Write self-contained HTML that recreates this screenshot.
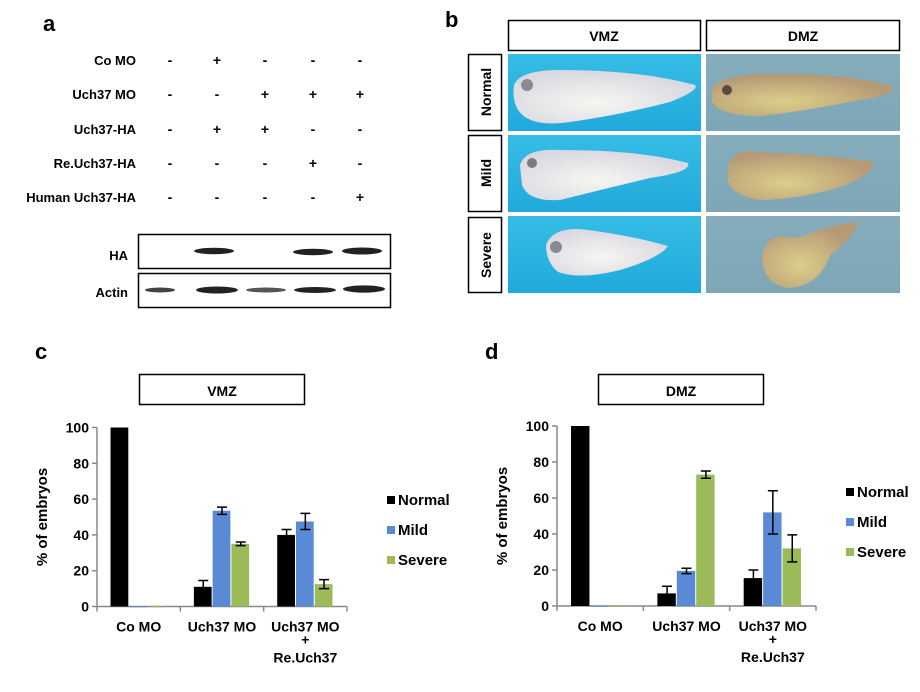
<!DOCTYPE html>
<html><head><meta charset="utf-8"><style>
html,body{margin:0;padding:0;background:#fff}
svg{display:block;font-family:"Liberation Sans",Arial,sans-serif;font-weight:bold}
</style></head><body>
<svg id="fig" width="920" height="692" viewBox="0 0 920 692" xmlns="http://www.w3.org/2000/svg">
<defs>
<linearGradient id="vmzbg" x1="0" y1="0" x2="0" y2="1"><stop offset="0" stop-color="#36bde6"/><stop offset="1" stop-color="#20a9db"/></linearGradient>
<linearGradient id="dmzbg" x1="0" y1="0" x2="0" y2="1"><stop offset="0" stop-color="#86adbb"/><stop offset="1" stop-color="#7ea6b6"/></linearGradient>
<radialGradient id="vemb" cx="0.45" cy="0.6" r="0.6"><stop offset="0" stop-color="#f8f6f2"/><stop offset="1" stop-color="#d8d8e0"/></radialGradient>
<radialGradient id="demb" cx="0.4" cy="0.65" r="0.6"><stop offset="0" stop-color="#dccf8a"/><stop offset="1" stop-color="#b69a76"/></radialGradient>
</defs>

<!-- Panel a -->
<g>
<text x="43" y="31" font-size="22">a</text>
<g font-size="13" text-anchor="end">
<text x="136" y="65">Co MO</text>
<text x="136" y="99">Uch37 MO</text>
<text x="136" y="134">Uch37-HA</text>
<text x="136" y="168">Re.Uch37-HA</text>
<text x="136" y="202">Human Uch37-HA</text>
</g>
<g id="signs" font-size="14" text-anchor="middle"></g>
<text x="128" y="260" font-size="13" text-anchor="end">HA</text>
<text x="128" y="297" font-size="13" text-anchor="end">Actin</text>
<rect x="138.5" y="234.5" width="252" height="34" fill="#fff" stroke="#000" stroke-width="1.5"/>
<rect x="138.5" y="273.5" width="252" height="34" fill="#fff" stroke="#000" stroke-width="1.5"/>
<g fill="#222">
<ellipse cx="214" cy="251" rx="20" ry="3.2"/>
<ellipse cx="313" cy="252" rx="20" ry="3.2"/>
<ellipse cx="362" cy="251" rx="20" ry="3.5"/>
<ellipse cx="160" cy="290" rx="15" ry="2.5" fill="#444"/>
<ellipse cx="217" cy="290" rx="21" ry="3.5"/>
<ellipse cx="266" cy="290" rx="20" ry="2.5" fill="#555"/>
<ellipse cx="315" cy="290" rx="21" ry="3"/>
<ellipse cx="364" cy="289" rx="21" ry="3.6"/>
</g>
</g>

<!-- Panel b -->
<g>
<text x="445" y="27" font-size="22">b</text>
<rect x="508.5" y="20.5" width="192" height="30" fill="#fff" stroke="#000" stroke-width="1.5"/>
<text x="604" y="41" font-size="14" text-anchor="middle">VMZ</text>
<rect x="706.5" y="20.5" width="193" height="30" fill="#fff" stroke="#000" stroke-width="1.5"/>
<text x="803" y="41" font-size="14" text-anchor="middle">DMZ</text>
<rect x="468.5" y="54.5" width="33" height="76" fill="#fff" stroke="#000" stroke-width="1.5"/>
<text transform="translate(491,92) rotate(-90)" font-size="14" text-anchor="middle">Normal</text>
<rect x="468.5" y="135.5" width="33" height="76" fill="#fff" stroke="#000" stroke-width="1.5"/>
<text transform="translate(491,173) rotate(-90)" font-size="14" text-anchor="middle">Mild</text>
<rect x="468.5" y="217.5" width="33" height="75" fill="#fff" stroke="#000" stroke-width="1.5"/>
<text transform="translate(491,255) rotate(-90)" font-size="14" text-anchor="middle">Severe</text>

<g>
<rect x="508" y="54" width="193" height="77" fill="url(#vmzbg)"/>
<rect x="508" y="135" width="193" height="77" fill="url(#vmzbg)"/>
<rect x="508" y="216" width="193" height="77" fill="url(#vmzbg)"/>
<path d="M514 85 Q520 70 560 70 Q640 70 695 85 Q700 90 670 102 Q620 115 570 122 Q530 128 518 110 Q512 100 514 85Z" fill="url(#vemb)"/>
<circle cx="527" cy="85" r="6" fill="#8a8a90"/>
<path d="M520 165 Q525 148 560 150 Q640 150 688 163 Q692 172 650 178 Q600 190 560 200 Q528 202 522 185Z" fill="url(#vemb)"/>
<circle cx="532" cy="163" r="5" fill="#7a7a80"/>
<path d="M546 245 Q552 228 580 229 Q630 235 668 246 Q660 258 620 270 Q580 280 558 272 Q546 262 546 245Z" fill="url(#vemb)"/>
<circle cx="556" cy="247" r="6" fill="#8a8a90"/>
</g>
<g>
<rect x="706" y="54" width="194" height="77" fill="url(#dmzbg)"/>
<rect x="706" y="135" width="194" height="77" fill="url(#dmzbg)"/>
<rect x="706" y="216" width="194" height="77" fill="url(#dmzbg)"/>
<path d="M712 90 Q718 76 760 74 Q840 72 892 86 Q896 95 860 100 Q800 112 760 116 Q718 115 712 102Z" fill="url(#demb)"/>
<circle cx="727" cy="90" r="5" fill="#5a4a40"/>
<path d="M728 165 Q735 148 760 152 Q820 154 874 162 Q872 178 830 190 Q790 200 760 200 Q730 195 728 180Z" fill="url(#demb)"/>
<path d="M762 262 Q762 240 780 236 Q800 240 808 234 Q830 225 858 222 Q852 240 830 255 Q820 285 790 288 Q766 286 762 262Z" fill="url(#demb)"/>
</g>
</g>

<!-- Panel c -->
<g>
<text x="35" y="359" font-size="22">c</text>
<rect x="139.5" y="374.5" width="165" height="30" fill="#fff" stroke="#000" stroke-width="1.5"/>
<text x="222" y="396" font-size="14" text-anchor="middle">VMZ</text>
<g id="chartC"></g>
</g>
<!-- Panel d -->
<g>
<text x="485" y="359" font-size="22">d</text>
<rect x="598.5" y="374.5" width="165" height="30" fill="#fff" stroke="#000" stroke-width="1.5"/>
<text x="681" y="396" font-size="14" text-anchor="middle">DMZ</text>
<g id="chartD"></g>
</g>
</svg>
<script>
const NS="http://www.w3.org/2000/svg";
const signRows=[["-","+","-","-","-"],["-","-","+","+","+"],["-","+","+","-","-"],["-","-","-","+","-"],["-","-","-","-","+"]];
const categories=["Co MO","Uch37 MO","Uch37 MO+Re.Uch37"];
const seriesNames=["Normal","Mild","Severe"];
const colors=["#000000","#5a8ad6","#9bbb59"];
const vmzNormal=[100,11,40], vmzMild=[0,53.5,47.5], vmzSevere=[0,35,12.5];
const vmzNormalErr=[0,3.5,3], vmzMildErr=[0,2,4.5], vmzSevereErr=[0,1,2.5];
const dmzNormal=[100,7,15.5], dmzMild=[0,19.5,52], dmzSevere=[0,73,32];
const dmzNormalErr=[0,4,4.5], dmzMildErr=[0,1.5,12], dmzSevereErr=[0,2,7.5];
const yTicks=[0,20,40,60,80,100];

function mk(tag,attrs,parent,txt){const e=document.createElementNS(NS,tag);for(const k in attrs)e.setAttribute(k,attrs[k]);if(txt!==undefined)e.textContent=txt;parent.appendChild(e);return e;}

const sg=document.getElementById("signs");
const laneX=[170,217,265,313,360], rowY=[65,99,134,168,202];
signRows.forEach((r,i)=>r.forEach((s,j)=>{const t=mk("text",{x:laneX[j],y:rowY[i]},sg,s);

}));

function chart(g,cfg,series,errs){
  const y=v=>cfg.y0-(v/100)*(cfg.y0-cfg.y100);
  const gw=(cfg.x1-cfg.x0)/categories.length, bw=gw*0.225;
  mk("line",{x1:cfg.x0,y1:cfg.y100,x2:cfg.x0,y2:cfg.y0,stroke:"#888","stroke-width":1.5},g);
  mk("line",{x1:cfg.x0,y1:cfg.y0,x2:cfg.x1,y2:cfg.y0,stroke:"#888","stroke-width":1.5},g);
  for(let i=0;i<=categories.length;i++)mk("line",{x1:cfg.x0+i*gw,y1:cfg.y0,x2:cfg.x0+i*gw,y2:cfg.y0+5,stroke:"#888","stroke-width":1.5},g);
  yTicks.forEach(t=>{mk("line",{x1:cfg.x0-5,y1:y(t),x2:cfg.x0,y2:y(t),stroke:"#888","stroke-width":1.5},g);
    const tl=mk("text",{x:cfg.x0-8,y:y(t)+5,"font-size":14,"text-anchor":"end"},g,t);
    
    });
  const yt=mk("text",{transform:`translate(${cfg.x0-50},${(cfg.y0+cfg.y100)/2}) rotate(-90)`,"font-size":15,"text-anchor":"middle"},g,"% of embryos");
  
  
  categories.forEach((c,ci)=>{
    const cx=cfg.x0+gw*(ci+0.5);
    const parts=c.split("+");
    parts.forEach((p,pi)=>{
      if(pi>0){const pl=mk("text",{x:cx,y:cfg.y0+38,"font-size":14,"text-anchor":"middle"},g,"+");
        
        }
      const xl=mk("text",{x:cx,y:cfg.y0+25+pi*31,"font-size":14,"text-anchor":"middle"},g,p);
      
      
    });
    series.forEach((s,si)=>{
      const bx=cx-1.5*bw+si*bw, v=s[ci];
      const r=mk("rect",{x:bx,y:y(v),width:bw-1,height:Math.max(0.8,cfg.y0-y(v)),fill:colors[si]},g);
      
      
      const e=errs[si][ci];
      if(e>0){const mx=bx+bw/2;
        const eb=mk("path",{d:`M${mx} ${y(v+e)}V${y(v-e)}M${mx-5} ${y(v+e)}H${mx+5}M${mx-5} ${y(v-e)}H${mx+5}`,stroke:"#000","stroke-width":1.5,fill:"none"},g);
        
        }
    });
  });
  seriesNames.forEach((n,i)=>{
    const ly=cfg.ly+i*cfg.lsp;
    const sq=mk("rect",{x:cfg.lx,y:ly-9,width:8,height:8,fill:colors[i]},g);
    
    
    const lt=mk("text",{x:cfg.lx+11,y:ly,"font-size":15},g,n);
    
    
  });
}
chart(document.getElementById("chartC"),{x0:97,x1:347,y0:606.5,y100:427.5,lx:387,ly:505,lsp:30},[vmzNormal,vmzMild,vmzSevere],[vmzNormalErr,vmzMildErr,vmzSevereErr]);
chart(document.getElementById("chartD"),{x0:557,x1:816,y0:606,y100:426,lx:846,ly:497,lsp:30},[dmzNormal,dmzMild,dmzSevere],[dmzNormalErr,dmzMildErr,dmzSevereErr]);
</script>
</body></html>
